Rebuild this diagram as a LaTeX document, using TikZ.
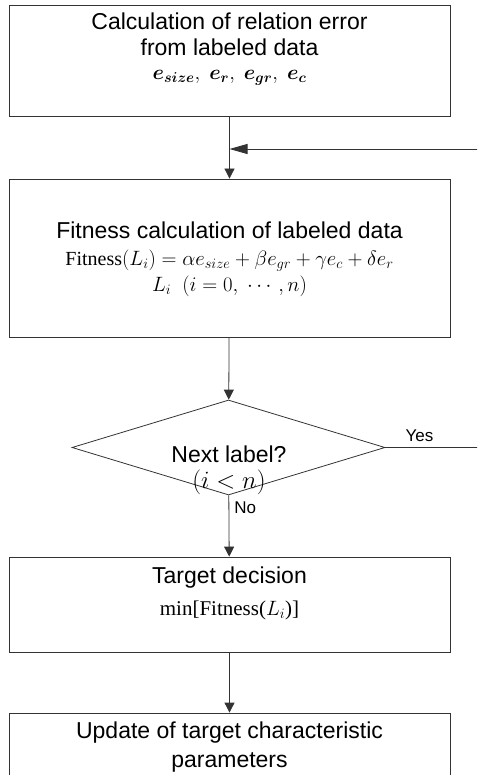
\documentclass[tikz,border=0pt]{standalone}
\usepackage{amsmath,bm}
\usepackage{fontspec}
\setmainfont{Liberation Sans}
\newfontfamily\frmfont{Liberation Serif}
\usetikzlibrary{arrows.meta,shapes.geometric}

\begin{document}
\begin{tikzpicture}[x=1pt,y=-1pt,>={Triangle[length=10pt,width=10pt]},
  line width=0.8pt,
  procbox/.style={draw=black!80,minimum width=441pt,inner sep=0pt},
  boxtext/.style={align=center,inner sep=0pt,font=\fontsize{23}{26}\selectfont},
  lbl/.style={inner sep=0pt,font=\fontsize{17}{17}\selectfont},
  conn/.style={draw=black!80}]
  \clip (0,0) rectangle (477,775);
  % boxes
  \node[procbox,minimum height=111pt] (calc) at (229.5,60.5) {};
  \node[procbox,minimum height=158pt] (fit) at (229.5,258) {};
  \node[draw=black!80,diamond,minimum width=313pt,minimum height=95pt,inner sep=0pt] (next) at (228.5,447.5) {};
  \node[procbox,minimum height=95pt] (target) at (229.5,604.5) {};
  \node[procbox,minimum height=94pt] (update) at (229.5,760) {};
  % texts
  \node[boxtext,anchor=north] (calctxt) at (229.5,12) {Calculation of relation error\\from labeled data\\[-2pt]
    {\fontsize{20}{22}\selectfont$\bm{e_{size}},\ \bm{e_r},\ \bm{e_{gr}},\ \bm{e_c}$}};
  \node[boxtext,anchor=north] (fittxt) at (229.5,221) {Fitness calculation of labeled data\\[1pt]
    {\fontsize{20}{20}\selectfont$\text{\frmfont Fitness}(L_i)=\alpha e_{size}+\beta e_{gr}+\gamma e_c+\delta e_r$}\\[0pt]
    {\fontsize{20}{20}\selectfont$L_i\ \ (i=0,\ \cdots,n)$}};
  \node[boxtext,anchor=north] (nexttxt) at (229,445) {Next label?\\[0pt]{\fontsize{24}{24}\selectfont$(i<n)$}};
  \node[boxtext,anchor=north] (targettxt) at (229.5,566) {Target decision\\[6pt]
    {\fontsize{21}{22}\selectfont$\text{\frmfont min[Fitness(}L_i\text{\frmfont )]}$}};
  \node[boxtext,anchor=north] (updatetxt) at (229.5,721) {Update of target characteristic\\[3pt]parameters};
  % connectors
  \coordinate (join) at (229.5,149);
  \coordinate (loop) at (495,447.5);
  \draw[conn,->] (calc) -- (fit);
  \draw[conn,->] (fit) -- (next);
  \draw[conn,->] (next) -- node[lbl,right=5pt,pos=0.2] (no) {No} (target);
  \draw[conn,->] (target) -- (update);
  \draw[conn,-{Triangle[length=18pt,width=10pt]}] (next.east) -- node[lbl,above=5pt,pos=0.31] (yes) {Yes} (loop) |- (join);
\end{tikzpicture}
\end{document}
